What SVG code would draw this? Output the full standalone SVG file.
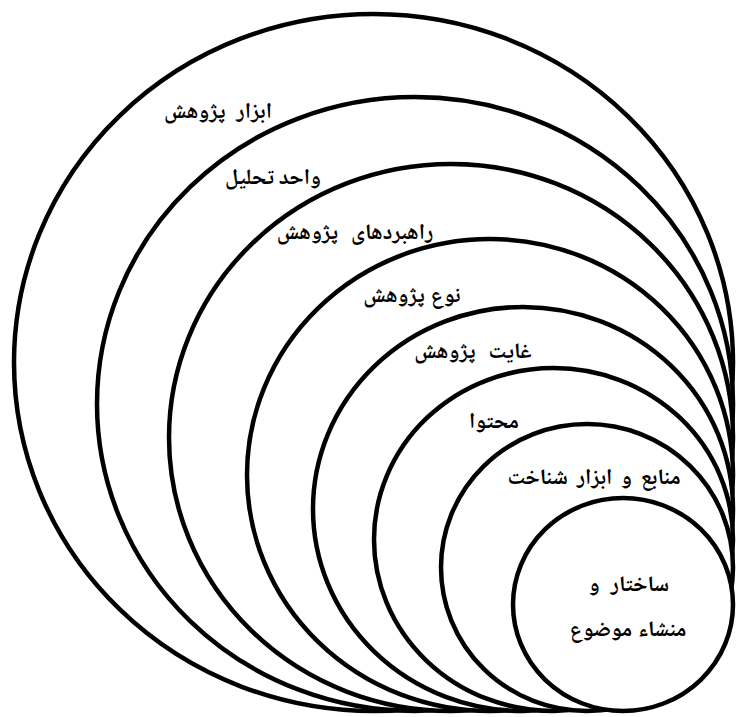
<svg xmlns="http://www.w3.org/2000/svg" width="736" height="717" viewBox="0 0 736 717">
<style>
.ring{fill:#fff;stroke:#000;stroke-width:4.5}
.lbl{font-family:"Noto Naskh Arabic","DejaVu Sans",sans-serif;font-weight:bold;font-size:22px;fill:#000;text-anchor:middle;direction:rtl}
</style>
<rect width="736" height="717" fill="#fff"/>
<g id="ring1"><ellipse class="ring" cx="373.5" cy="362.5" rx="359.5" ry="348.5"/><text class="lbl" x="218" y="118" word-spacing="6">ابزار پژوهش</text></g>
<g id="ring2"><ellipse class="ring" cx="415" cy="404" rx="318" ry="307"/><text class="lbl" x="273" y="184">واحد تحلیل</text></g>
<g id="ring3"><ellipse class="ring" cx="451" cy="437.5" rx="282" ry="273.5"/><text class="lbl" x="355" y="239" word-spacing="8">راهبردهای پژوهش</text></g>
<g id="ring4"><ellipse class="ring" cx="490" cy="475" rx="243" ry="236"/><text class="lbl" x="412" y="302" word-spacing="1">نوع پژوهش</text></g>
<g id="ring5"><ellipse class="ring" cx="523" cy="509" rx="210" ry="202"/><text class="lbl" x="473" y="358" word-spacing="8">غایت پژوهش</text></g>
<g id="ring6"><ellipse class="ring" cx="553.5" cy="539.5" rx="179.5" ry="171.5"/><text class="lbl" x="494" y="428">محتوا</text></g>
<g id="ring7"><ellipse class="ring" cx="587" cy="567.5" rx="146" ry="143.5"/><text class="lbl" x="594" y="484" word-spacing="4">منابع و ابزار شناخت</text></g>
<g id="ring8"><ellipse class="ring" cx="623" cy="604.5" rx="110" ry="106.5"/><text class="lbl" x="629" y="591" word-spacing="6">ساختار و</text><text class="lbl" x="628" y="636" word-spacing="1">منشاء موضوع</text></g>
</svg>
